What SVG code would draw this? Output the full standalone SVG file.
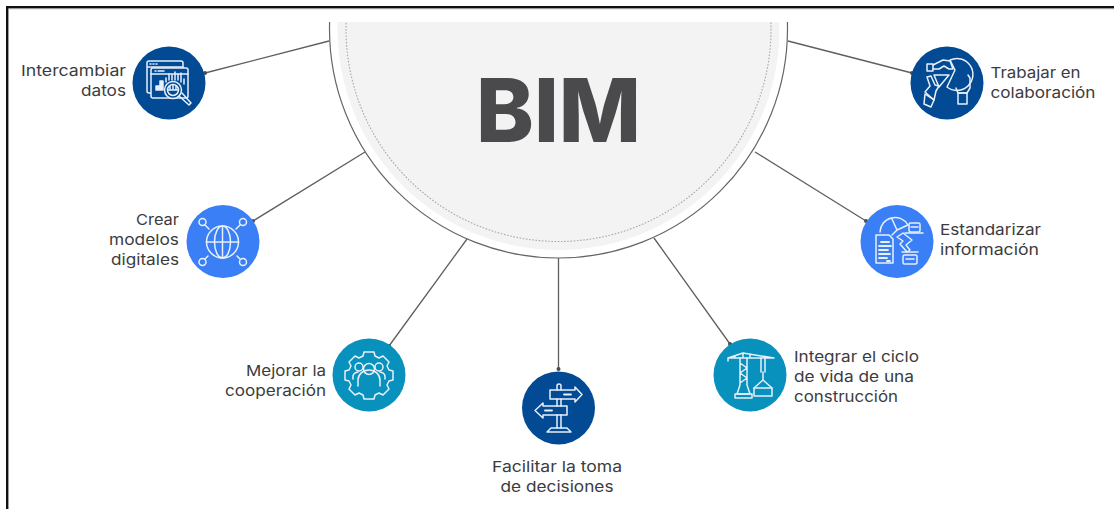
<svg xmlns="http://www.w3.org/2000/svg" width="1114" height="509" viewBox="0 0 1114 509">
<style>
.lbl{font-family:Inter,"Liberation Sans",sans-serif;font-size:15px;fill:#3c3c3e}
.r{text-anchor:end}.m{text-anchor:middle}
.conn{stroke:#5f5f5f;stroke-width:1.3;fill:none}
.dot{fill:#4c4c4c}
.ic{fill:none;stroke:#e8f0fa;stroke-width:1.5;stroke-linejoin:round;stroke-linecap:round}
.navy{fill:#024a93}.blue{fill:#3a7ff6}.teal{fill:#0891bc}
</style>
<defs><clipPath id="top"><rect x="0" y="22" width="1114" height="487"/></clipPath></defs>
<rect width="1114" height="509" fill="#fff"/>
<path d="M7.2 509V7.2H1114" fill="none" stroke="#111" stroke-width="2.4"/>
<path d="M8.5 8.800H1114" fill="none" stroke="#aaa" stroke-width="0.8"/>
<g id="connectors">
<path class="conn" d="M329 41L205 73M365 152L253 221M467 239L389 346M558.500 258V369M654 238L730 344M755 152L866 221M788 41L912 73"/>
<circle class="dot" cx="205" cy="73" r="2"/><circle class="dot" cx="253" cy="221" r="2"/><circle class="dot" cx="389" cy="346" r="2"/><circle class="dot" cx="558.500" cy="369" r="2"/><circle class="dot" cx="730" cy="344" r="2"/><circle class="dot" cx="866" cy="221" r="2"/><circle class="dot" cx="912" cy="73" r="2"/>
</g>
<g id="hub" clip-path="url(#top)">
<circle cx="558.500" cy="29" r="229" fill="#fff" stroke="#666" stroke-width="1.200"/>
<circle cx="558.500" cy="29" r="221" fill="#f3f3f3"/>
<circle cx="558.500" cy="29" r="212.500" fill="none" stroke="#a8a8a8" stroke-width="1.100" stroke-dasharray="1.600 1.600"/>
<text x="476" y="142" textLength="165" lengthAdjust="spacingAndGlyphs" font-family="Inter,'Liberation Sans',sans-serif" font-size="88" font-weight="800" fill="#4a4a4c">BIM</text>
</g>
<g id="intercambiar">
<circle class="navy" cx="169" cy="83" r="36.500"/>
<g class="ic">
<path d="M147 91V63a2 2 0 0 1 2-2h32a2 2 0 0 1 2 2v5M147 67h36M150 64h1M153 64h1M156 64h1M147 91a2 2 0 0 0 2 2h2"/>
<rect x="151" y="68" width="37" height="30" rx="2" fill="#024a93"/>
<path d="M151 74h37M155 71h1M158 71h6"/>
<path d="M156 90v-4h3v4zM160 90v-9h3v9z" fill="#e8f0fa"/>
<path d="M166 82v-4M169 80v-6M172 80v-5M175 80v-8M178 80v-6M181 82v-9M184 84v-5"/>
<circle cx="173" cy="90" r="8.500" fill="#024a93"/><circle cx="173" cy="90" r="5.500"/>
<path d="M168 90h10M170 86v4M173 85v5M176 86v4"/>
<path d="M179 96l10 9 2-2-9-10"/>
</g>
<text class="lbl r"><tspan x="126" y="76" textLength="105" lengthAdjust="spacingAndGlyphs">Intercambiar</tspan><tspan x="126" y="96" textLength="45" lengthAdjust="spacingAndGlyphs">datos</tspan></text>
</g>
<g id="crear">
<circle class="blue" cx="223" cy="241.500" r="36.500"/>
<g class="ic">
<circle cx="222.500" cy="242" r="16"/><ellipse cx="222.500" cy="242" rx="8" ry="16"/>
<path d="M222.500 226v32M206.500 242h32"/>
<circle cx="202.500" cy="222" r="3.500"/><circle cx="243" cy="222" r="3.500"/><circle cx="202.500" cy="262" r="3.500"/><circle cx="243" cy="262" r="3.500"/>
<path d="M205 225l4 4M240 225l-4 4M205 259l3-3M240 259l-3-3"/>
</g>
<text class="lbl r"><tspan x="179" y="225" textLength="43" lengthAdjust="spacingAndGlyphs">Crear</tspan><tspan x="179" y="245" textLength="70" lengthAdjust="spacingAndGlyphs">modelos</tspan><tspan x="179" y="265" textLength="68" lengthAdjust="spacingAndGlyphs">digitales</tspan></text>
</g>
<g id="mejorar">
<circle class="teal" cx="369" cy="375" r="36.500"/>
<g class="ic">
<path d="M364 352h10l1 4 4 2 4-2 6 6-2 4 2 4 4 1v9l-4 1-2 4 2 4-6 6-4-2-4 2-1 4h-10l-1-4-4-2-4 2-6-6 2-4-2-4-4-1v-9l4-1 2-4-2-4 6-6 4 2 4-2z"/>
<circle cx="369" cy="369" r="5.500"/><circle cx="359" cy="367" r="4"/><circle cx="379" cy="367" r="4"/>
<path d="M358 386v-6a11 10 0 0 1 22 0v6M353 379v-3a6 5 0 0 1 5-4M385 379v-3a6 5 0 0 0-5-4"/>
</g>
<text class="lbl r"><tspan x="326" y="376" textLength="80" lengthAdjust="spacingAndGlyphs">Mejorar la</tspan><tspan x="326" y="396" textLength="101" lengthAdjust="spacingAndGlyphs">cooperación</tspan></text>
</g>
<g id="facilitar">
<circle class="navy" cx="558.500" cy="408" r="36.500"/>
<g class="ic">
<path d="M557 390v-4a2 2 0 0 1 4 0v4M557 399v7M561 399v7M557 415v13M561 415v13"/>
<path d="M550 390h25v-3l7 7.500-7 7.500v-3h-25z"/>
<path d="M567 406h-24v-3l-8 7.500 8 7.500v-3h24z"/>
<path d="M547 432h24l-4-4h-16z"/>
<path d="M564 394.500h7M545 410.500h7" stroke-width="1.800"/>
</g>
<text class="lbl m"><tspan x="557" y="472" textLength="130" lengthAdjust="spacingAndGlyphs">Facilitar la toma</tspan><tspan x="557" y="492" textLength="113" lengthAdjust="spacingAndGlyphs">de decisiones</tspan></text>
</g>
<g id="integrar">
<circle class="teal" cx="750" cy="375" r="36.500"/>
<g class="ic">
<path d="M728 358h46M728 358l15-5 31 5M728 358v3M735 358v-2M743 358v-5M750 358v-4"/>
<path d="M740 358v27M747 358v27M740 363l7 5-7 5 7 5-7 5M740 385l-3 9h13l-3-9"/>
<path d="M735 394h17v4h-17z"/>
<path d="M761 358v14M765 358v14M763 372v8M763 380l-9 8M763 380l9 8"/>
<rect x="754" y="388" width="18" height="8"/>
</g>
<text class="lbl"><tspan x="794" y="362" textLength="125" lengthAdjust="spacingAndGlyphs">Integrar el ciclo</tspan><tspan x="794" y="382" textLength="120" lengthAdjust="spacingAndGlyphs">de vida de una</tspan><tspan x="794" y="402" textLength="104" lengthAdjust="spacingAndGlyphs">construcción</tspan></text>
</g>
<g id="estandarizar">
<circle class="blue" cx="897" cy="241.500" r="36.500"/>
<g class="ic">
<path d="M880 232a15 15 0 0 1 28-7l-11 5-5-11M897 230l-5 5"/>
<path d="M876 235h13l4 4v24h-17z"/>
<path d="M881 242h8M879 246h12M879 250h9M879 254h11M879 258h8M887 261h3" stroke-width="1.800"/>
<path d="M897 237l6-4 9 7-6 5 4 5-3 2-7-8 3-3z"/>
<path d="M905 233h18"/>
<rect x="909" y="223" width="11" height="9" rx="1.500"/><path d="M911 227h7"/>
<path d="M902 252h16"/><rect x="903" y="255" width="14" height="9" rx="1.500"/><path d="M906 259h8"/>
</g>
<text class="lbl"><tspan x="940" y="235" textLength="101" lengthAdjust="spacingAndGlyphs">Estandarizar</tspan><tspan x="940" y="255" textLength="99" lengthAdjust="spacingAndGlyphs">información</tspan></text>
</g>
<g id="trabajar">
<circle class="navy" cx="947" cy="83" r="36.500"/>
<g class="ic">
<rect x="927" y="64" width="6" height="7"/>
<path d="M933 65l10-5 7 1 3 8-4 0-5-3-5 3h-6"/>
<path d="M950 60a16 16 0 1 1-3 27l8-17-5-10"/>
<path d="M934 75h15l-10 12z"/>
<path d="M931 76l4 9 4 1-3 5-2 9-9-8 5-6-3-9z"/>
<path d="M925 94l9 6-3 7-7-3z"/>
<path d="M968 75l2 3v10l-3 5h-9l-2-5"/>
<rect x="958" y="93" width="9" height="11"/>
</g>
<text class="lbl"><tspan x="990.500" y="78" textLength="90" lengthAdjust="spacingAndGlyphs">Trabajar en</tspan><tspan x="990.500" y="98" textLength="105" lengthAdjust="spacingAndGlyphs">colaboración</tspan></text>
</g>
</svg>
